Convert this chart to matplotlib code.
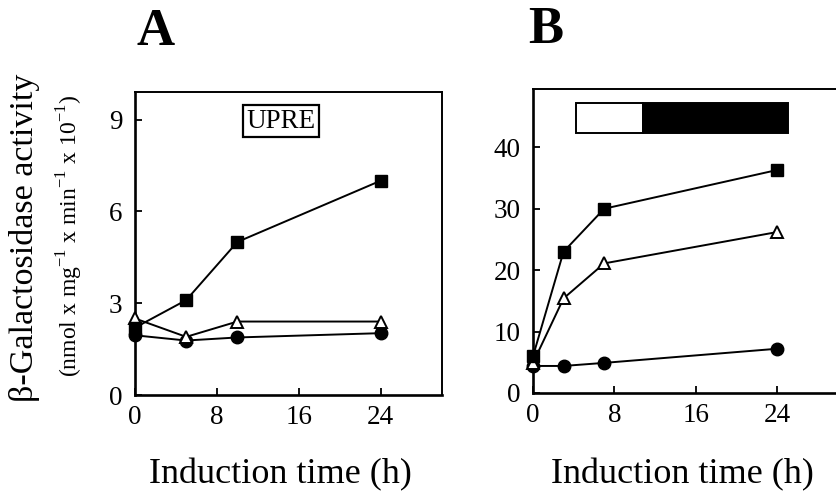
import numpy as np
import matplotlib
matplotlib.use("Agg")
import matplotlib.pyplot as plt
from matplotlib.patches import Rectangle

plt.rcParams['font.family'] = ['Liberation Serif', 'DejaVu Serif']
plt.rcParams['mathtext.fontset'] = 'custom'
plt.rcParams['mathtext.rm'] = 'Liberation Serif'

# panel A data (UPRE)
time_a = [0, 5, 10, 24]
squares_a = [2.2, 3.1, 5.0, 7.0]
triangles_a = [2.5, 1.9, 2.4, 2.4]
circles_a = [1.95, 1.78, 1.88, 2.02]

# panel B data
time_b = [0, 3, 7, 24]
squares_b = [6.0, 23.0, 30.0, 36.3]
triangles_b = [4.9, 15.4, 21.1, 26.2]
circles_b = [4.4, 4.4, 4.9, 7.2]

xticks = [0, 8, 16, 24]
yticks_a = [0, 3, 6, 9]
yticks_b = [0, 10, 20, 30, 40]

fig = plt.figure(figsize=(8.36, 4.94), dpi=100)
ax_a = fig.add_axes([0.1615, 0.2004, 0.3672, 0.6134])
ax_b = fig.add_axes([0.6376, 0.2045, 0.3648, 0.6154])


def draw(ax, t, sq, tri, circ, yticks, ylim):
    kw = dict(color='black', lw=1.4, markersize=9, clip_on=False, zorder=3)
    ax.plot(t, circ, marker='o', markerfacecolor='black', **kw)
    ax.plot(t, tri, marker='^', markerfacecolor='white', markeredgewidth=1.4, **kw)
    ax.plot(t, sq, marker='s', markerfacecolor='black', **kw)
    ax.set_xlim(0, 30)
    ax.set_ylim(*ylim)
    ax.set_xticks(xticks)
    ax.set_yticks(yticks)
    ax.tick_params(direction='in', length=5, width=1.3, labelsize=19.5)
    ax.tick_params(axis='y', pad=9)
    ax.tick_params(axis='x', pad=7)
    for s in ['left', 'bottom']:
        ax.spines[s].set_linewidth(1.9)
    for s in ['top', 'right']:
        ax.spines[s].set_linewidth(1.4)


draw(ax_a, time_a, squares_a, triangles_a, circles_a, yticks_a, (0, 9.9))
draw(ax_b, time_b, squares_b, triangles_b, circles_b, yticks_b, (0, 49.5))

ax_a.text(0.476, 0.904, 'UPRE', transform=ax_a.transAxes, fontsize=19.5,
          ha='center', va='center',
          bbox=dict(boxstyle='square,pad=0.12', fc='white', ec='black', lw=1.6))

# open / filled bar in panel B
ax_b.add_patch(Rectangle((4.2, 42.3), 6.6, 4.9, fc='white', ec='black', lw=1.4, zorder=4))
ax_b.add_patch(Rectangle((10.8, 42.3), 14.3, 4.9, fc='black', ec='black', lw=1.4, zorder=4))

fig.text(156 / 836, 1 - 32 / 494, 'A', fontsize=38, fontweight='bold', ha='center', va='center')
fig.text(546 / 836, 1 - 30 / 494, 'B', fontsize=38, fontweight='bold', ha='center', va='center')

fig.text(280 / 836, 1 - 475 / 494, 'Induction time (h)', fontsize=26, ha='center', va='center')
fig.text(682 / 836, 1 - 475 / 494, 'Induction time (h)', fontsize=26, ha='center', va='center')

fig.text(25 / 836, 1 - 238 / 494, 'β-Galactosidase activity', fontsize=24.5,
         rotation=90, ha='center', va='center')
fig.text(70 / 836, 1 - 236 / 494,
         r'(nmol x mg$^{\mathregular{-1}}$ x min$^{\mathregular{-1}}$ x 10$^{\mathregular{-1}}$)',
         fontsize=17, rotation=90, ha='center', va='center')

fig.savefig('out.png', dpi=100)
